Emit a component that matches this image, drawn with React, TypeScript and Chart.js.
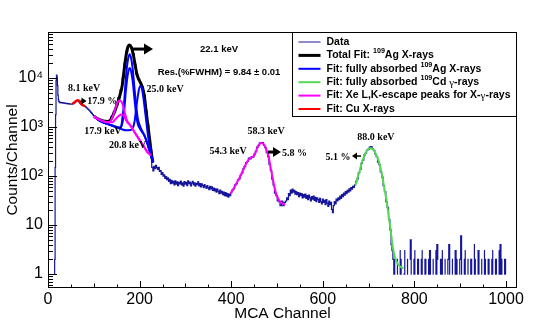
import React, { useEffect, useRef } from 'react';
import { Chart, registerables } from 'chart.js';

Chart.register(...registerables);

const SANS = '"Liberation Sans", Arial, Helvetica, sans-serif';
const SERIF = '"Liberation Serif", "Times New Roman", serif';

const DATA_COLOR = '#16169a';
const BLUE = '#0000ff';
const GREEN = '#55d855';
const MAGENTA = '#ff00ff';
const RED = '#ff0000';
const BLACK = '#000000';

// ---------------- measured histogram (MCA channel, counts) ----------------
const dataChannels = [
  0, 4, 8, 12, 13, 14, 15, 16, 17, 18, 19, 20, 21, 22, 23, 24, 26, 28, 30, 32, 34, 36, 38, 40, 42, 44, 46, 48, 50,
  52, 54, 56, 58, 60, 62, 64, 66, 68, 70, 72, 74, 76, 78, 80, 82, 84, 86, 88, 90, 92, 94, 96, 98, 100,
  102, 105, 110, 115, 120, 125, 130, 135, 140, 145, 150, 155, 160, 164, 168, 172, 176, 179, 182, 186, 190,
  194, 198, 202, 206, 210, 214, 218, 222, 225, 228,
  230, 232, 234, 236, 238, 240, 242, 244, 246, 248, 250, 252, 254, 256, 258, 260, 262, 264, 266, 268, 270, 272,
  274, 276, 278, 280, 282, 284, 286, 288, 290, 292, 294, 296, 298, 300, 302, 304, 306, 308, 310, 312, 314, 316,
  318, 320, 322, 324, 326, 328, 330, 332, 334, 336, 338, 340, 342, 344, 346, 348, 350, 352, 354, 356, 358, 360,
  362, 364, 366, 368, 370, 372, 374, 376, 378, 380, 382, 384, 386, 388, 390, 392, 394, 396, 398,
  400, 403, 406, 409, 412, 415, 418, 421, 424, 427, 430, 433, 436, 439, 442, 445, 448, 451, 454, 457, 460, 463,
  466, 469, 472, 475, 478, 481, 484, 487, 490, 493, 496, 499, 502, 505, 508, 511, 514, 517, 520,
  522, 524, 526, 528, 530, 532, 534, 536, 538, 540, 542, 544, 546, 548, 550, 552, 554, 556, 558, 560, 562, 564,
  566, 568, 570, 572, 574, 576, 578, 580, 582, 584, 586, 588, 590, 592, 594, 596, 598, 600, 602, 604, 606, 608,
  610, 612, 614, 616, 618, 620, 622, 624, 626, 628, 630, 632, 634, 636, 638, 640, 642, 644, 646, 648, 650, 652,
  654, 656, 658, 660, 662, 664, 666, 668, 670,
  673, 676, 679, 682, 685, 688, 691, 694, 697, 700, 703, 706, 709, 712, 715, 718, 721, 724, 727, 730, 733, 736,
  739, 742, 745, 748,
  750, 752, 754, 756, 758, 760, 762, 764, 766, 768, 770, 772, 774, 776, 778, 780, 782, 784, 786, 788, 790, 792,
  794, 796, 798, 800, 802, 804, 806, 808, 810, 812, 814, 816, 818, 820, 822, 824, 826, 828, 830, 832, 834, 836,
  838, 840, 842, 844, 846, 848, 850, 852, 854, 856, 858, 860, 862, 864, 866, 868, 870, 872, 874, 876, 878, 880,
  882, 884, 886, 888, 890, 892, 894, 896, 898, 900, 902, 904, 906, 908, 910, 912, 914, 916, 918, 920, 922, 924,
  926, 928, 930, 932, 934, 936, 938, 940, 942, 944, 946, 948, 950, 952, 954, 956, 958, 960, 962, 964, 966, 968,
  970, 972, 974, 976, 978, 980, 982, 984, 986, 988, 990, 992, 994, 996, 998, 1000, 1002, 1024,
];
const dataCounts = [
  0, 0, 0, 0, 1, 1, 2, 150, 1800, 9000, 11500, 10500, 7000, 4500, 3600, 3300, 3150, 3200, 3120, 3150, 3080, 3100, 3050, 3000, 3050, 2980, 3000, 2950, 2920,
  2950, 3000, 3080, 3200, 3300, 3420, 3480, 3400, 3250, 3080, 2920, 2820, 2750, 2700, 2650, 2600, 2500, 2420, 2300, 2200, 2120, 2000, 1900, 1800, 1700,
  1650, 1560, 1460, 1400, 1350, 1320, 1310, 1360, 1650, 2050, 2800, 4000, 5800, 10000, 20000, 34000, 46000, 48000, 43000, 31000, 19000,
  12000, 9500, 8000, 6500, 4500, 2200, 1100, 550, 330, 150,
  128, 158, 142, 165, 148, 136, 150, 124, 130, 108, 118, 100, 106, 90, 98, 84, 92, 78, 86, 70, 82, 72,
  78, 66, 80, 68, 76, 64, 74, 69, 79, 66, 73, 62, 77, 68, 74, 64, 80, 70, 75, 63, 72, 78,
  66, 73, 62, 71, 67, 76, 63, 70, 60, 69, 64, 58, 67, 61, 56, 64, 58, 53, 62, 55, 60, 51,
  57, 50, 55, 47, 54, 49, 44, 52, 45, 49, 42, 47, 40, 46, 39, 44, 37, 43, 40,
  46, 52, 55, 66, 70, 84, 88, 104, 114, 140, 155, 188, 198, 232, 225, 248, 242, 282, 315, 390, 425, 478,
  470, 482, 420, 378, 300, 250, 172, 130, 86, 65, 45, 40, 31, 30, 25, 31, 25, 29, 31,
  36, 33, 44, 40, 52, 45, 54, 47, 51, 43, 48, 42, 46, 38, 45, 40, 44, 36, 42, 37, 43, 35,
  40, 33, 41, 36, 31, 38, 34, 39, 32, 37, 30, 36, 33, 29, 35, 30, 27, 34, 29, 32, 26, 33,
  28, 24, 31, 26, 29, 21, 18, 25, 30, 27, 34, 31, 36, 33, 39, 35, 42, 38, 45, 41, 48, 44,
  51, 47, 55, 50, 58, 54, 62, 59, 66,
  78, 88, 116, 136, 182, 210, 268, 292, 338, 352, 390, 400, 360, 335, 282, 250, 192, 170, 122, 95, 64, 48,
  30, 23, 13, 8,
  4, 3, 2, 1, 2, 0, 1, 2, 0, 3, 1, 2, 0, 1, 1, 3, 0, 2, 1, 0, 2, 5,
  1, 0, 2, 1, 3, 0, 1, 2, 1, 0, 2, 1, 3, 0, 1, 2, 1, 0, 2, 1, 3, 1,
  0, 2, 1, 0, 3, 1, 4, 2, 0, 1, 2, 1, 3, 0, 1, 2, 0, 1, 2, 4, 1, 0,
  2, 1, 0, 1, 3, 1, 2, 0, 1, 2, 6, 1, 0, 2, 1, 3, 0, 2, 1, 0, 1, 2,
  1, 0, 4, 1, 2, 0, 1, 3, 1, 0, 2, 1, 0, 3, 1, 2, 0, 1, 2, 1, 0, 2,
  1, 3, 0, 1, 2, 1, 0, 3, 1, 4, 1, 2, 0, 1, 2, 1, 0, 0,
];

// ---------------- fit curves (MCA channel, counts) ----------------
const cuFitChannels = [53, 56, 59, 62, 65, 68, 71, 74, 77, 81];
const cuFitCounts = [3000, 3080, 3250, 3450, 3520, 3400, 3150, 2920, 2780, 2680];

const totalFitChannels = [101, 110, 120, 130, 136, 142, 148, 153, 158, 162, 166, 170, 174, 178, 182, 186, 190, 194, 198, 202, 206, 210, 214, 218, 222, 226, 229];
const totalFitCounts = [1650, 1450, 1330, 1300, 1380, 1750, 2400, 3300, 4800, 7000, 14000, 27000, 42000, 47500, 42000, 31000, 19000, 12000, 9500, 8000, 6500, 4500, 2200, 1100, 550, 280, 190];

const agKa1Channels = [101, 110, 120, 130, 140, 150, 156, 160, 163, 166, 170, 174, 178, 182, 185, 188, 192, 196, 200, 205, 210, 214, 218, 222, 226, 229];
const agKa1Counts = [1650, 1400, 1250, 1160, 1080, 1000, 970, 1050, 1700, 3000, 10000, 22000, 30500, 24000, 15000, 7500, 3000, 1500, 1100, 850, 700, 560, 430, 320, 240, 190];
const agKa2Channels = [101, 110, 120, 130, 140, 150, 156, 160, 163, 166, 170, 174, 178, 182, 185, 188, 192, 196, 200, 205, 210, 214, 218, 222, 226, 229];
const agKa2Counts = [1650, 1400, 1250, 1160, 1080, 1000, 970, 1020, 1300, 2000, 5500, 11500, 16000, 13000, 8500, 4500, 2000, 1150, 950, 800, 680, 550, 420, 320, 240, 190];
const agKbChannels = [101, 110, 120, 130, 140, 150, 160, 170, 180, 185, 189, 193, 197, 201, 204, 207, 211, 215, 219, 223, 227, 229];
const agKbCounts = [1650, 1400, 1250, 1150, 1060, 980, 910, 860, 870, 950, 1300, 2600, 4800, 6900, 6600, 4800, 2500, 1200, 600, 350, 230, 195];

const escapeAChannels = [101, 110, 120, 130, 136, 142, 147, 152, 156, 160, 164, 168, 172, 178, 188, 198, 208, 218, 225];
const escapeACounts = [1650, 1450, 1320, 1250, 1300, 1700, 2400, 3200, 3500, 3350, 2700, 1900, 1400, 1140, 810, 580, 420, 300, 265];
const escapeBChannels = [101, 110, 120, 130, 140, 146, 152, 158, 162, 166, 170, 174, 178, 188, 198, 208, 218, 225];
const escapeBCounts = [1650, 1450, 1320, 1250, 1250, 1400, 1600, 1780, 1800, 1650, 1400, 1220, 1140, 810, 580, 420, 300, 265];

const escape58Channels = [398, 405, 412, 420, 427, 434, 440, 446, 451, 456, 461, 466, 470, 474, 478, 482, 486, 490, 494, 498, 503, 508, 513, 518];
const escape58Counts = [44, 55, 72, 100, 140, 190, 225, 245, 270, 360, 440, 470, 455, 400, 320, 240, 150, 95, 62, 44, 34, 29, 27, 26];

const cdGammaChannels = [671, 676, 681, 686, 691, 696, 700, 704, 708, 712, 716, 720, 724, 728, 732, 736, 740, 744, 748, 752, 756, 760, 765, 770, 776];
const cdGammaCounts = [65, 92, 135, 200, 265, 325, 360, 370, 360, 325, 280, 230, 175, 120, 76, 47, 28, 15, 8, 4, 2.5, 1.9, 1.55, 1.4, 1.3];

// ---------------- axes ----------------
const xTickValues = [0, 200, 400, 600, 800, 1000];
const yTickValues = [1, 10, 100, 1000, 10000];
const yTickLabels = ['1', '10', '10²', '10³', '10⁴'];

// ---------------- legend ----------------
type Part = { t: string; sup?: boolean; greek?: boolean };
const legendRows: { parts: Part[]; color: string; width: number }[] = [
  { parts: [{ t: 'Data' }], color: DATA_COLOR, width: 1 },
  { parts: [{ t: 'Total Fit: ' }, { t: '109', sup: true }, { t: 'Ag X-rays' }], color: BLACK, width: 3 },
  { parts: [{ t: 'Fit: fully absorbed ' }, { t: '109', sup: true }, { t: 'Ag X-rays' }], color: BLUE, width: 2 },
  { parts: [{ t: 'Fit: fully absorbed ' }, { t: '109', sup: true }, { t: 'Cd ' }, { t: 'γ', greek: true }, { t: '-rays' }], color: GREEN, width: 2 },
  { parts: [{ t: 'Fit: Xe L,K-escape peaks for X-' }, { t: 'γ', greek: true }, { t: '-rays' }], color: MAGENTA, width: 2 },
  { parts: [{ t: 'Fit: Cu X-rays' }], color: RED, width: 2 },
];

// ---------------- annotations (data coordinates) ----------------
const labels = [
  { text: '8.1 keV', ch: 78.6, val: 6250, align: 'center', serif: true },
  { text: '17.9 %', ch: 85.5, val: 3395, align: 'left', serif: true },
  { text: '17.9 keV', ch: 120, val: 829, align: 'center', serif: true },
  { text: '20.8 keV', ch: 173.6, val: 429, align: 'center', serif: true },
  { text: '25.0 keV', ch: 255.5, val: 5966, align: 'center', serif: true },
  { text: '22.1 keV', ch: 373.4, val: 39050, align: 'center', serif: false },
  { text: 'Res.(%FWHM) = 9.84 ± 0.01', ch: 373.4, val: 13260, align: 'center', serif: false },
  { text: '58.3 keV', ch: 476, val: 829, align: 'center', serif: true },
  { text: '54.3 keV', ch: 393, val: 324, align: 'center', serif: true },
  { text: '5.8 %', ch: 511, val: 295, align: 'left', serif: true },
  { text: '5.1 %', ch: 633, val: 244, align: 'center', serif: true },
  { text: '88.0 keV', ch: 716, val: 625, align: 'center', serif: true },
];
const arrows = [
  { fromCh: 71, toCh: 84, val: 3395, width: 1.5, head: 5, half: 3.5 },
  { fromCh: 183.4, toCh: 229.3, val: 39050, width: 3, head: 9, half: 5.5 },
  { fromCh: 480.3, toCh: 508.7, val: 309, width: 3, head: 8, half: 5 },
  { fromCh: 683.4, toCh: 663.8, val: 256, width: 1.5, head: 5, half: 3.5 },
];

function pairs(xs: number[], ys: number[]) {
  return xs.map((x, i) => ({ x, y: ys[i] }));
}

function drawParts(ctx: CanvasRenderingContext2D, parts: Part[], x: number, y: number, size: number) {
  let cx = x;
  for (const p of parts) {
    if (p.sup) {
      ctx.font = `bold ${size * 0.68}px ${SANS}`;
      ctx.fillText(p.t, cx, y - size * 0.38);
    } else if (p.greek) {
      ctx.font = `${size * 1.05}px ${SERIF}`;
      ctx.fillText(p.t, cx, y + 0.5);
    } else {
      ctx.font = `bold ${size}px ${SANS}`;
      ctx.fillText(p.t, cx, y);
    }
    cx += ctx.measureText(p.t).width;
  }
}

const overlay = {
  id: 'overlay',
  afterDraw(chart: any) {
    const { ctx, chartArea: a } = chart;
    const xs = chart.scales.x;
    const ys = chart.scales.y;
    ctx.save();
    // frame
    ctx.strokeStyle = '#000';
    ctx.lineWidth = 1;
    ctx.strokeRect(Math.round(a.left) + 0.5, Math.round(a.top) + 0.5, Math.round(a.right - a.left) - 1, Math.round(a.bottom - a.top) - 1);
    // y ticks (inside)
    ctx.beginPath();
    for (let e = -1; e <= 5; e++) {
      for (let k = 1; k < 10; k++) {
        const v = k * Math.pow(10, e);
        if (v < ys.min || v > ys.max) continue;
        const py = Math.round(ys.getPixelForValue(v)) + 0.5;
        const len = k === 1 ? 9 : 5;
        ctx.moveTo(a.left, py);
        ctx.lineTo(a.left + len, py);
      }
    }
    // x ticks (inside)
    for (let v = 0; v <= xs.max; v += 50) {
      const px = Math.round(xs.getPixelForValue(v)) + 0.5;
      const len = v % 200 === 0 ? 7 : v % 100 === 0 ? 4.5 : 3.5;
      ctx.moveTo(px, a.bottom);
      ctx.lineTo(px, a.bottom - len);
    }
    ctx.stroke();

    // annotations
    ctx.fillStyle = '#000';
    ctx.textBaseline = 'middle';
    for (const l of labels) {
      ctx.font = l.serif ? `bold 10px ${SERIF}` : `bold 9.5px ${SANS}`;
      ctx.textAlign = l.align as CanvasTextAlign;
      ctx.fillText(l.text, xs.getPixelForValue(l.ch), ys.getPixelForValue(l.val));
    }
    for (const ar of arrows) {
      const x1 = xs.getPixelForValue(ar.fromCh);
      const x2 = xs.getPixelForValue(ar.toCh);
      const py = ys.getPixelForValue(ar.val);
      const dir = x2 > x1 ? 1 : -1;
      ctx.strokeStyle = '#000';
      ctx.lineWidth = ar.width;
      ctx.beginPath();
      ctx.moveTo(x1, py);
      ctx.lineTo(x2 - dir * ar.head * 0.6, py);
      ctx.stroke();
      ctx.beginPath();
      ctx.moveTo(x2, py);
      ctx.lineTo(x2 - dir * ar.head, py - ar.half);
      ctx.lineTo(x2 - dir * ar.head, py + ar.half);
      ctx.closePath();
      ctx.fill();
    }

    // legend
    const boxW = 224;
    const boxH = 84;
    const bx = Math.round(a.right) - boxW - 0.5;
    const by = Math.round(a.top) + 0.5;
    ctx.fillStyle = '#fff';
    ctx.fillRect(bx, by, boxW, boxH);
    ctx.strokeStyle = '#000';
    ctx.lineWidth = 1;
    ctx.strokeRect(bx, by, boxW, boxH);
    ctx.textAlign = 'left';
    ctx.textBaseline = 'middle';
    legendRows.forEach((row, i) => {
      const ry = by + 9.5 + i * 13.4;
      ctx.strokeStyle = row.color;
      ctx.lineWidth = row.width;
      ctx.beginPath();
      ctx.moveTo(bx + 6, ry);
      ctx.lineTo(bx + 28, ry);
      ctx.stroke();
      ctx.fillStyle = '#000';
      drawParts(ctx, row.parts, bx + 34, ry, 10.5);
    });
    ctx.restore();
  },
};

export default function App() {
  const ref = useRef<HTMLCanvasElement | null>(null);
  useEffect(() => {
    if (!ref.current) return;
    const fit = (label: string, xs: number[], ys: number[], color: string, width: number) => ({
      label,
      data: pairs(xs, ys),
      borderColor: color,
      borderWidth: width,
      pointRadius: 0,
      fill: false,
      cubicInterpolationMode: 'monotone' as const,
    });
    const chart = new Chart(ref.current, {
      type: 'line',
      data: {
        datasets: [
          fit('Fit: Cu X-rays', cuFitChannels, cuFitCounts, RED, 2.5),
          fit('Fit: Xe escape 58 keV', escape58Channels, escape58Counts, MAGENTA, 2),
          fit('Fit: fully absorbed 109Cd γ-rays', cdGammaChannels, cdGammaCounts, GREEN, 2),
          fit('Fit: Xe escape A', escapeAChannels, escapeACounts, MAGENTA, 2),
          fit('Fit: Xe escape B', escapeBChannels, escapeBCounts, MAGENTA, 2),
          fit('Fit: Ag Ka1', agKa1Channels, agKa1Counts, BLUE, 2),
          fit('Fit: Ag Ka2', agKa2Channels, agKa2Counts, BLUE, 2),
          fit('Fit: Ag Kb', agKbChannels, agKbCounts, BLUE, 2),
          fit('Total Fit', totalFitChannels, totalFitCounts, BLACK, 3),
          {
            label: 'Data',
            data: pairs(dataChannels, dataCounts),
            borderColor: DATA_COLOR,
            borderWidth: 1.2,
            pointRadius: 0,
            fill: false,
            stepped: 'middle' as const,
          },
        ],
      },
      options: {
        animation: false,
        responsive: false,
        events: [],
        layout: { padding: { top: 32, right: 35, left: 0, bottom: 0 } },
        plugins: { legend: { display: false }, tooltip: { enabled: false }, title: { display: false } },
        scales: {
          x: {
            type: 'linear',
            min: 0,
            max: 1024,
            afterFit: (s: any) => { s.height = 33; },
            afterBuildTicks: (s: any) => { s.ticks = xTickValues.map((v) => ({ value: v })); },
            grid: { display: false, drawTicks: false },
            border: { display: false },
            ticks: {
              color: '#000',
              font: { family: SANS, size: 16 },
              padding: 2,
              maxRotation: 0,
              autoSkip: false,
              callback: (v: any) => String(v),
            },
            title: {
              display: true,
              text: 'MCA Channel',
              color: '#000',
              font: { family: SANS, size: 15.5, lineHeight: 1 },
              padding: { top: 0, bottom: 0 },
            },
          },
          y: {
            type: 'logarithmic',
            min: 0.52,
            max: 87000,
            afterFit: (s: any) => { s.width = 48; },
            afterBuildTicks: (s: any) => { s.ticks = yTickValues.map((v) => ({ value: v })); },
            grid: { display: false, drawTicks: false },
            border: { display: false },
            ticks: {
              color: '#000',
              font: { family: SANS, size: 16 },
              padding: 5,
              autoSkip: false,
              callback: (_v: any, i: number) => yTickLabels[i] ?? '',
            },
            title: {
              display: true,
              text: 'Counts/Channel',
              color: '#000',
              font: { family: SANS, size: 15.5, lineHeight: 1 },
              padding: { top: 5, bottom: 0 },
            },
          },
        },
      },
      plugins: [overlay],
    } as any);
    return () => chart.destroy();
  }, []);
  return (
    <div style={{ position: 'absolute', left: 0, top: 0, width: 552, height: 321, background: '#fff' }}>
      <canvas ref={ref} width={552} height={321} style={{ display: 'block' }} />
    </div>
  );
}
